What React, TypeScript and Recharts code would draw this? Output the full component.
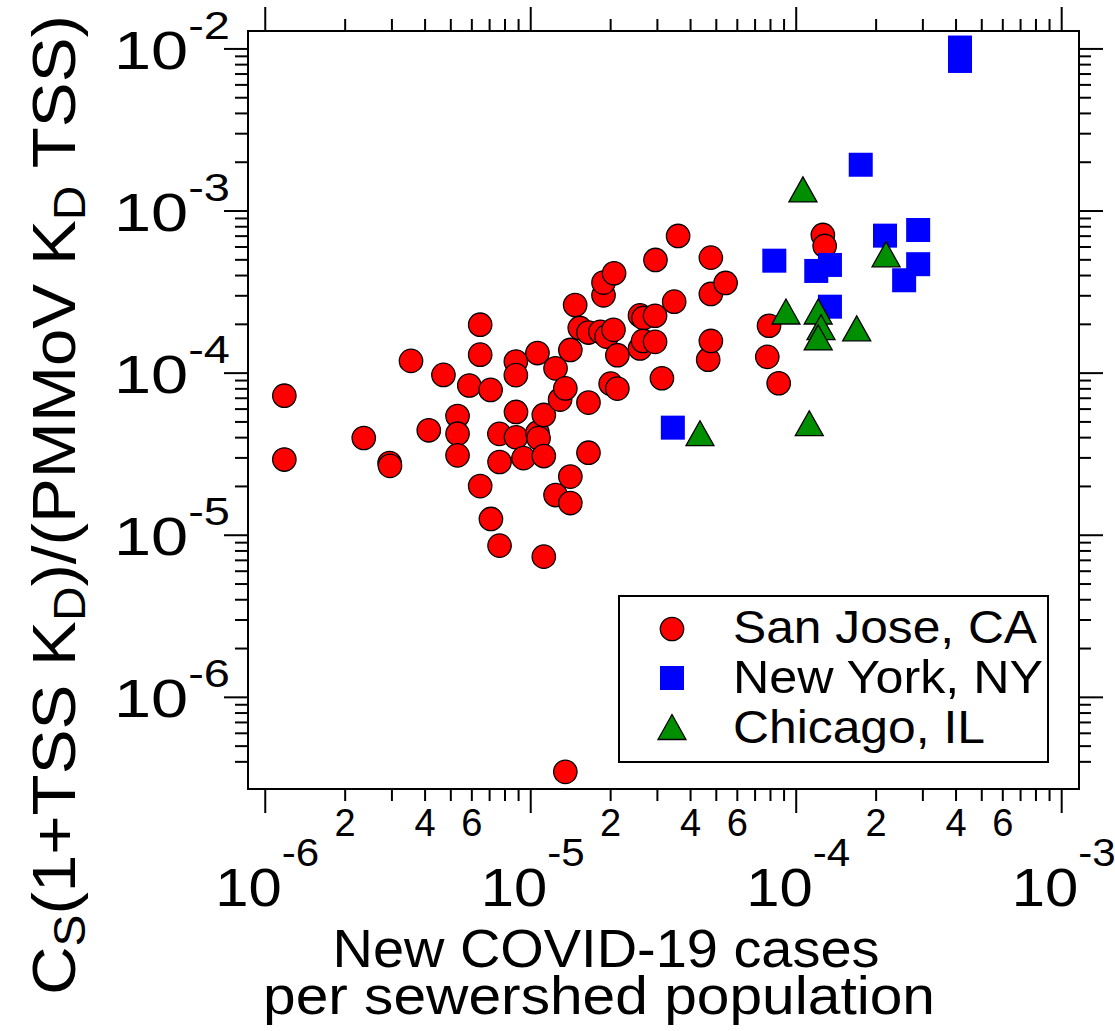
import React from 'react';
import { ScatterChart, Scatter, XAxis, YAxis, Legend } from 'recharts';

// new cases per sewershed population (x) vs normalised concentration (y)
const sanJoseCases = [
  1.18e-6, 1.18e-6, 2.35e-6, 2.94e-6, 2.95e-6, 3.54e-6, 4.13e-6, 4.69e-6, 5.3e-6, 5.3e-6,
  5.3e-6, 5.87e-6, 6.45e-6, 6.45e-6, 6.45e-6, 7.06e-6, 7.08e-6, 7.62e-6, 7.63e-6, 7.63e-6,
  8.79e-6, 8.79e-6, 8.8e-6, 8.8e-6, 9.39e-6, 1.06e-5, 1.06e-5, 1.07e-5, 1.12e-5, 1.12e-5,
  1.12e-5, 1.24e-5, 1.24e-5, 1.29e-5, 1.35e-5, 1.41e-5, 1.41e-5, 1.41e-5, 1.47e-5, 1.53e-5,
  1.65e-5, 1.65e-5, 1.65e-5, 1.83e-5, 1.88e-5, 1.88e-5, 1.93e-5, 2.0e-5, 2.05e-5, 2.06e-5,
  2.12e-5, 2.12e-5, 2.58e-5, 2.66e-5, 2.94e-5, 2.58e-5, 2.65e-5, 2.94e-5, 2.95e-5, 3.12e-5,
  3.47e-5, 3.59e-5, 4.66e-5, 4.77e-5, 4.77e-5, 4.77e-5, 5.42e-5, 7.78e-5, 7.9e-5, 8.59e-5,
  1.26e-4, 1.28e-4, 1.35e-5,
];
const sanJoseRatio = [
  7.26e-5, 2.93e-5, 3.98e-5, 2.79e-5, 2.68e-5, 1.19e-4, 4.44e-5, 9.75e-5, 5.44e-5, 4.23e-5,
  3.11e-5, 8.39e-5, 1.99e-4, 1.3e-4, 2.01e-5, 7.88e-5, 1.26e-5, 4.22e-5, 2.83e-5, 8.63e-6,
  1.18e-4, 9.72e-5, 5.76e-5, 4.02e-5, 2.99e-5, 1.33e-4, 4.29e-5, 3.97e-5, 5.52e-5, 3.08e-5,
  7.38e-6, 1.07e-4, 1.77e-5, 6.87e-5, 8.05e-5, 1.39e-4, 2.3e-5, 1.58e-5, 2.63e-4, 1.9e-4,
  1.78e-4, 6.58e-5, 3.23e-5, 1.8e-4, 3.02e-4, 3.62e-4, 1.68e-4, 8.61e-5, 1.85e-4, 4.13e-4,
  1.29e-4, 8.03e-5, 2.27e-4, 2.19e-4, 2.26e-4, 1.42e-4, 1.58e-4, 1.56e-4, 4.99e-4, 9.3e-5,
  2.76e-4, 7.02e-4, 1.21e-4, 5.16e-4, 3.08e-4, 1.58e-4, 3.6e-4, 1.26e-4, 1.96e-4, 8.66e-5,
  7.12e-4, 6.09e-4, 3.47e-7,
];
const newYorkCases = [4.14e-4, 4.14e-4, 1.75e-4, 2.16e-4, 2.88e-4, 8.27e-5, 1.19e-4, 1.34e-4, 2.88e-4, 2.55e-4, 1.34e-4, 3.43e-5];
const newYorkRatio = [1.02e-2, 8.43e-3, 1.93e-3, 7.05e-4, 7.64e-4, 4.94e-4, 4.27e-4, 4.65e-4, 4.7e-4, 3.74e-4, 2.57e-4, 4.61e-5];
const chicagoCases = [1.06e-4, 2.18e-4, 9.15e-5, 1.21e-4, 1.24e-4, 1.21e-4, 1.69e-4, 1.12e-4, 4.34e-5];
const chicagoRatio = [1.36e-3, 5.41e-4, 2.4e-4, 2.4e-4, 1.92e-4, 1.66e-4, 1.89e-4, 4.91e-5, 4.26e-5];

const seriesNames = ['San Jose, CA', 'New York, NY', 'Chicago, IL'];
const legendWidths = [304, 310, 252];

const xDecades = [1e-6, 1e-5, 1e-4];
const xMajors = [1e-6, 1e-5, 1e-4, 1e-3];
const yDecades = [1e-7, 1e-6, 1e-5, 1e-4, 1e-3];
const yMajors = [1e-6, 1e-5, 1e-4, 1e-3, 1e-2];
const minorSteps = [2, 3, 4, 5, 6, 7, 8, 9];
const labelledMinor = [2, 4, 6];

const xDomain = [8.61e-7, 1.162e-3];
const yDomain = [2.72e-7, 1.29e-2];

const FONT = '"Liberation Sans", Arial, Helvetica, sans-serif';

const xTicks = [...xMajors, ...xDecades.flatMap(d => minorSteps.map(m => m * d))];
const yTicks = [
  ...yMajors,
  ...yDecades.flatMap(d => minorSteps.map(m => m * d)).filter(v => v >= 3.9e-7),
];

const toPoints = (xs: number[], ys: number[]) => xs.map((x, i) => ({ cases: x, ratio: ys[i] }));
const sanJose = toPoints(sanJoseCases, sanJoseRatio);
const newYork = toPoints(newYorkCases, newYorkRatio);
const chicago = toPoints(chicagoCases, chicagoRatio);

function splitLog(v: number) {
  const e = Math.floor(Math.log10(v) + 1e-9);
  return { e, m: Math.round(v / Math.pow(10, e)) };
}

const line = { stroke: '#000', strokeWidth: 2 };

function BottomTick({ x, y, payload }: any) {
  const { e, m } = splitLog(payload.value);
  const major = m === 1;
  return (
    <g>
      <line x1={x} x2={x} y1={y} y2={y + (major ? 24 : 12)} {...line} />
      {major ? (
        <text x={x + 2} y={y + 117} textAnchor="middle" fontSize={54} fontFamily={FONT} fill="#000"
          textLength={104} lengthAdjust="spacingAndGlyphs">
          10<tspan dy={-40} fontSize={38}>{e}</tspan>
        </text>
      ) : labelledMinor.includes(m) ? (
        <text x={x} y={y + 47} textAnchor="middle" fontSize={38} fontFamily={FONT} fill="#000">{m}</text>
      ) : null}
    </g>
  );
}

function TopTick({ x, y, payload }: any) {
  const { m } = splitLog(payload.value);
  return <line x1={x} x2={x} y1={y} y2={y - (m === 1 ? 24 : 12)} {...line} />;
}

function LeftTick({ x, y, payload }: any) {
  const { e, m } = splitLog(payload.value);
  const major = m === 1;
  return (
    <g>
      <line x1={x} x2={x - (major ? 24 : 13)} y1={y} y2={y} {...line} />
      {major && (
        <text x={x - 18} y={y + 20} textAnchor="end" fontSize={54} fontFamily={FONT} fill="#000"
          textLength={116} lengthAdjust="spacingAndGlyphs">
          10<tspan dy={-30} fontSize={38}>{e}</tspan>
        </text>
      )}
    </g>
  );
}

function RightTick({ x, y, payload }: any) {
  const { m } = splitLog(payload.value);
  return <line x1={x} x2={x + (m === 1 ? 24 : 12)} y1={y} y2={y} {...line} />;
}

const Dot = ({ cx, cy }: any) => <circle cx={cx} cy={cy} r={11.7} fill="#ff0000" stroke="#000" strokeWidth={1.3} />;
const Box = ({ cx, cy }: any) => <rect x={cx - 12} y={cy - 12} width={24} height={24} fill="#0000ff" />;
const Tri = ({ cx, cy }: any) => (
  <polygon
    points={`${cx},${cy - 12.5} ${cx + 14},${cy + 12.5} ${cx - 14},${cy + 12.5}`}
    fill="#008f00"
    stroke="#000"
    strokeWidth={1.3}
  />
);
const markers = [Dot, Box, Tri];

function LegendBox() {
  return (
    <svg width={431} height={168} style={{ display: 'block' }}>
      <rect x={1} y={1} width={429} height={166} fill="#fff" stroke="#000" strokeWidth={2} />
      {seriesNames.map((name, i) => {
        const Marker = markers[i];
        return (
          <g key={name}>
            <Marker cx={54} cy={34 + i * 49} />
            <text x={115} y={48 + i * 50} fontSize={46} fontFamily={FONT} fill="#000"
              textLength={legendWidths[i]} lengthAdjust="spacingAndGlyphs">{name}</text>
          </g>
        );
      })}
    </svg>
  );
}

function XTitle({ viewBox }: any) {
  return (
    <g>
      <text x={viewBox.x + 358} y={viewBox.y + 178} textAnchor="middle" fontSize={53} fontFamily={FONT} fill="#000"
        textLength={547} lengthAdjust="spacingAndGlyphs">
        New COVID-19 cases
      </text>
      <text x={viewBox.x + 351} y={viewBox.y + 225} textAnchor="middle" fontSize={53} fontFamily={FONT} fill="#000"
        textLength={672} lengthAdjust="spacingAndGlyphs">
        per sewershed population
      </text>
    </g>
  );
}

function YTitle({ viewBox }: any) {
  const bx = 75;
  const by = viewBox.y + 474;
  return (
    <text x={bx} y={by} transform={`rotate(-90, ${bx}, ${by})`} textAnchor="middle" fontSize={62} fontFamily={FONT} fill="#000"
      textLength={980} lengthAdjust="spacingAndGlyphs">
      C<tspan dy={10} fontSize={44}>S</tspan>
      <tspan dy={-10}>(1+TSS K</tspan>
      <tspan dy={10} fontSize={44}>D</tspan>
      <tspan dy={-10}>)/(PMMoV K</tspan>
      <tspan dy={10} fontSize={44}>D</tspan>
      <tspan dy={-10}> TSS)</tspan>
    </text>
  );
}

const axisLine = { stroke: '#000', strokeWidth: 2, strokeLinecap: 'square' as const };

export default function App() {
  return (
    <div style={{ position: 'absolute', left: 0, top: 0, width: 1115, height: 1031, background: '#fff' }}>
      <ScatterChart width={1115} height={1031} margin={{ top: 0, right: 0, bottom: 0, left: 0 }}>
        <XAxis
          xAxisId="bottom" type="number" dataKey="cases" scale="log" domain={xDomain} allowDataOverflow
          ticks={xTicks} interval={0} tick={<BottomTick />} tickLine={false} tickSize={0} tickMargin={0}
          axisLine={axisLine} height={242} label={{ content: XTitle }}
        />
        <XAxis
          xAxisId="top" orientation="top" type="number" dataKey="cases" scale="log" domain={xDomain} allowDataOverflow
          ticks={xTicks} interval={0} tick={<TopTick />} tickLine={false} tickSize={0} tickMargin={0}
          axisLine={axisLine} height={31}
        />
        <YAxis
          yAxisId="left" type="number" dataKey="ratio" scale="log" domain={yDomain} allowDataOverflow
          ticks={yTicks} interval={0} tick={<LeftTick />} tickLine={false} tickSize={0} tickMargin={0}
          axisLine={axisLine} width={248} label={{ content: YTitle }}
        />
        <YAxis
          yAxisId="right" orientation="right" type="number" dataKey="ratio" scale="log" domain={yDomain} allowDataOverflow
          ticks={yTicks} interval={0} tick={<RightTick />} tickLine={false} tickSize={0} tickMargin={0}
          axisLine={axisLine} width={36}
        />
        <Scatter name={seriesNames[0]} data={sanJose} xAxisId="bottom" yAxisId="left" shape={Dot} isAnimationActive={false} />
        <Scatter name={seriesNames[1]} data={newYork} xAxisId="bottom" yAxisId="left" shape={Box} isAnimationActive={false} />
        <Scatter name={seriesNames[2]} data={chicago} xAxisId="bottom" yAxisId="left" shape={Tri} isAnimationActive={false} />
        <Legend
          layout="vertical" align="center" verticalAlign="middle" content={LegendBox}
          wrapperStyle={{ left: 618, top: 595, width: 431, height: 168 }}
        />
      </ScatterChart>
    </div>
  );
}
